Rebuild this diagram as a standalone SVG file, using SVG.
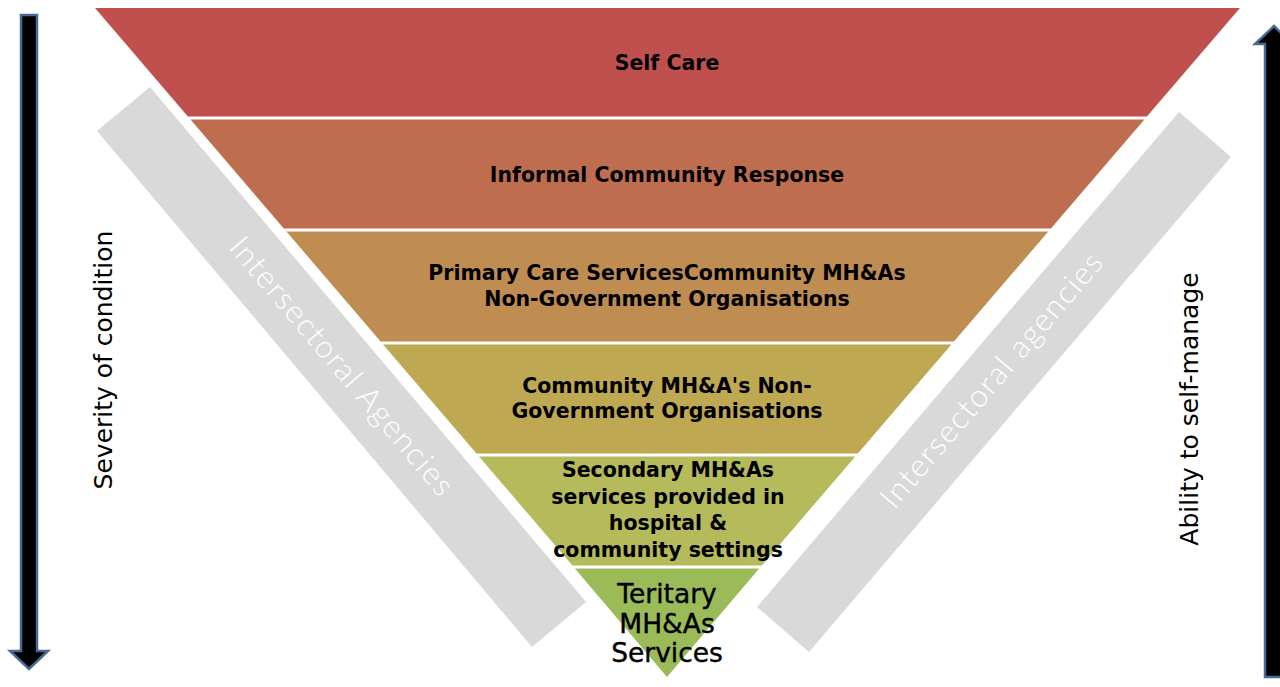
<svg xmlns="http://www.w3.org/2000/svg" width="1280" height="687" viewBox="0 0 1280 687">
  <style>
    .lbl { font-family: "DejaVu Sans", "Liberation Sans", sans-serif; font-weight: bold; font-size: 20.5px; fill: #000; text-anchor: middle; }
    .big { font-family: "DejaVu Sans", "Liberation Sans", sans-serif; font-weight: normal; font-size: 26.5px; fill: #000; text-anchor: middle; stroke: #000; stroke-width: 0.4px; }
    .side { font-family: "DejaVu Sans", "Liberation Sans", sans-serif; font-size: 25px; fill: #000; text-anchor: middle; }
    .band { fill: #D9D9D9; }
    .bandtxt { font-family: "Lato", "Liberation Sans", sans-serif; font-weight: 300; font-size: 31.5px; fill: #FFFFFF; text-anchor: middle; }
    .arrow { fill: #000; stroke: #4A6A96; stroke-width: 2.5; stroke-linejoin: miter; }
  </style>

  <g id="intersectoral-left">
    <polygon class="band" points="150,87 586,602 532,647 97,131"/>
    <text class="bandtxt" transform="translate(342,366) rotate(49.7)" dy="0.35em" textLength="328" lengthAdjust="spacing">Intersectoral Agencies</text>
  </g>
  <g id="intersectoral-right">
    <polygon class="band" points="1179,112 1231,157 809,652 757,607"/>
    <text class="bandtxt" transform="translate(991,380) rotate(-49.55)" dy="0.35em" textLength="324" lengthAdjust="spacing">Intersectoral agencies</text>
  </g>

  <g id="self-care">
    <polygon fill="#C0504D" points="95,8 1240,8 1146.9,116.5 187.9,116.5"/>
    <text class="lbl" x="667" y="70">Self Care</text>
  </g>
  <g id="informal-community">
    <polygon fill="#BF6D4F" points="190.5,119.5 1144.4,119.5 1050.9,228.5 283.8,228.5"/>
    <text class="lbl" x="667" y="182">Informal Community Response</text>
  </g>
  <g id="primary-care">
    <polygon fill="#BF8C52" points="286.4,231.5 1048.3,231.5 953.9,341.5 380.6,341.5"/>
    <text class="lbl" x="667" y="280">Primary Care ServicesCommunity MH&amp;As</text>
    <text class="lbl" x="667" y="306">Non-Government Organisations</text>
  </g>
  <g id="community-ngo">
    <polygon fill="#BEA852" points="383.1,344.5 951.4,344.5 857.9,453.5 476.5,453.5"/>
    <text class="lbl" x="667" y="393">Community MH&amp;A's Non-</text>
    <text class="lbl" x="667" y="418">Government Organisations</text>
  </g>
  <g id="secondary">
    <polygon fill="#B5BA5A" points="479,456.5 855.3,456.5 761.8,565.5 572.4,565.5"/>
    <text class="lbl" x="668" y="477">Secondary MH&amp;As</text>
    <text class="lbl" x="668" y="504">services provided in</text>
    <text class="lbl" x="668" y="530">hospital &amp;</text>
    <text class="lbl" x="668" y="557">community settings</text>
  </g>
  <g id="tertiary">
    <polygon fill="#9BBB59" points="574.9,568.5 759.2,568.5 667,677"/>
    <text class="big" x="667" y="603">Teritary</text>
    <text class="big" x="667" y="633">MH&amp;As</text>
    <text class="big" x="667" y="662">Services</text>
  </g>

  <g id="connectors">
    <g id="severity-arrow">
      <polygon class="arrow" points="21,15 37,15 37,651 48,651 29,669 10,651 21,651"/>
      <text class="side" transform="translate(112,360) rotate(-90)">Severity of condition</text>
    </g>
    <g id="self-manage-arrow">
      <polygon class="arrow" points="1274,26 1293,44 1283,44 1283,677 1265,677 1265,44 1255,44"/>
      <text class="side" transform="translate(1198,409) rotate(-90)">Ability to self-manage</text>
    </g>
  </g>
</svg>
